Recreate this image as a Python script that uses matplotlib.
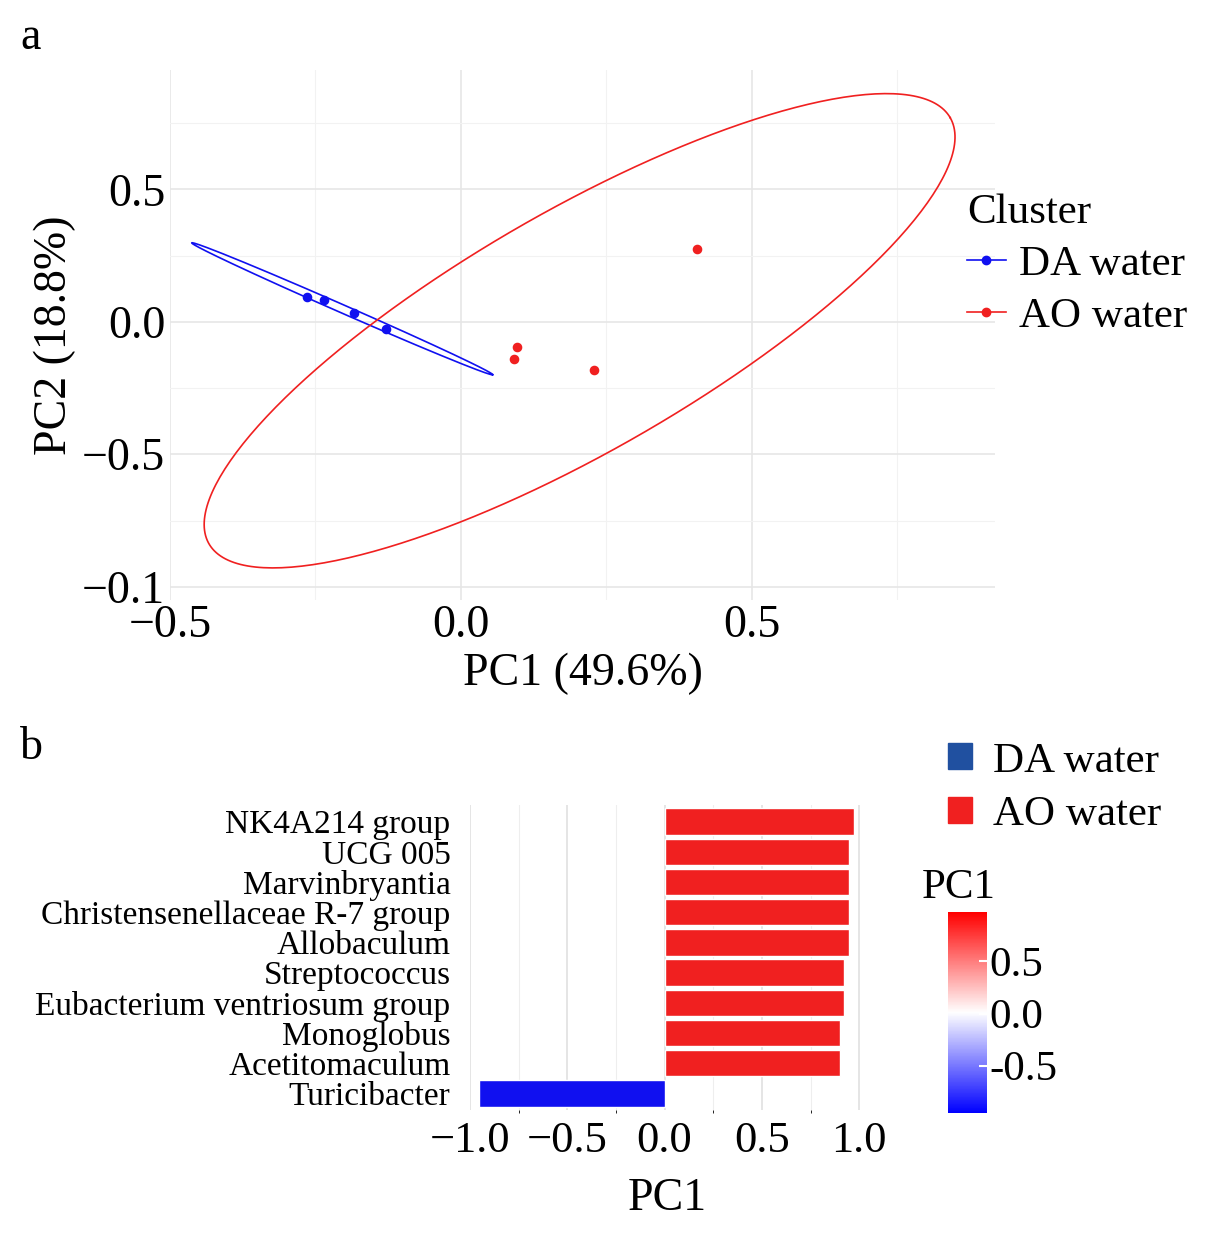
import numpy as np
import matplotlib.pyplot as plt
from matplotlib.colors import LinearSegmentedColormap, Normalize
from matplotlib.lines import Line2D
from matplotlib.patches import Patch

plt.rcParams['font.family'] = ['Liberation Serif', 'DejaVu Serif']

# ---- panel a: PCA scores ----
da_pc1 = [-0.265, -0.235, -0.184, -0.129]
da_pc2 = [0.094, 0.083, 0.034, -0.026]
ao_pc1 = [0.096, 0.091, 0.229, 0.405]
ao_pc2 = [-0.094, -0.140, -0.181, 0.275]

# ellipses: centre, semi-major vector, semi-minor vector (data units)
da_ell = ((-0.204, 0.049), (0.2585, -0.249), (0.0085, 0.0088))
ao_ell = ((0.204, -0.034), (0.637, 0.804), (0.103, -0.393))

# ---- panel b: loadings ----
taxa = ['NK4A214 group', 'UCG 005', 'Marvinbryantia', 'Christensenellaceae R-7 group',
        'Allobaculum', 'Streptococcus', 'Eubacterium ventriosum group', 'Monoglobus',
        'Acetitomaculum', 'Turicibacter']
pc1_load = [0.974, 0.95, 0.95, 0.95, 0.95, 0.92, 0.92, 0.90, 0.90, -0.954]

blue = '#1010F0'
red = '#F02020'

fig = plt.figure(figsize=(12.11, 12.34), dpi=100)

ax = fig.add_axes([170/1211, 1-600/1234, 825/1211, 530/1234])
ax.set_xlim(-0.5, 0.918)
ax.set_ylim(-1.05, 0.95)
t = np.linspace(0, 2*np.pi, 300)
for (c, u, v), col in [(da_ell, blue), (ao_ell, red)]:
    ex = c[0] + u[0]*np.cos(t) + v[0]*np.sin(t)
    ey = c[1] + u[1]*np.cos(t) + v[1]*np.sin(t)
    ax.plot(ex, ey, color=col, lw=1.2)
ax.scatter(da_pc1, da_pc2, color=blue, s=35, zorder=3)
ax.scatter(ao_pc1, ao_pc2, color=red, s=35, zorder=3)
ax.set_xticks([-0.5, 0.0, 0.5])
ax.set_xticklabels(['\u22120.5', '0.0', '0.5'])
ax.set_yticks([0.5, 0.0, -0.5, -1.0])
ax.set_yticklabels(['0.5', '0.0', '\u22120.5', '\u22120.1'])
ax.set_xticks([-0.25, 0.25, 0.75], minor=True)
ax.set_yticks([0.75, 0.25, -0.25, -0.75], minor=True)
ax.grid(True, which='major', color='#e6e6e6', lw=1.2)
ax.grid(True, which='minor', color='#f2f2f2', lw=0.8)
ax.tick_params(which='both', length=0, labelsize=33, colors='black')
for s in ax.spines.values():
    s.set_visible(False)
ax.set_xlabel('PC1 (49.6%)', fontsize=33, labelpad=4)
ax.set_ylabel('PC2 (18.8%)', fontsize=33, labelpad=4)
handles = [Line2D([], [], color=blue, marker='o', lw=1.2, label='DA water'),
           Line2D([], [], color=red, marker='o', lw=1.2, label='AO water')]
leg = ax.legend(handles=handles, title='Cluster', loc='upper left', bbox_to_anchor=(0.945, 0.80),
                frameon=False, fontsize=31, title_fontsize=31, handlelength=0.9,
                handletextpad=0.3, borderaxespad=0, labelspacing=0.3)
leg._legend_box.align = 'left'
fig.text(20/1211, 1-38/1234, 'a', fontsize=33, va='center')

# ---- panel b ----
cmap = LinearSegmentedColormap.from_list('bwr2', ['#0000FF', '#FFFFFF', '#FF0000'])
bx = fig.add_axes([470/1211, 1-1110/1234, 395/1211, 305/1234])
y = np.arange(len(taxa))[::-1]
cols = [red if v > 0 else blue for v in pc1_load]
bx.barh(y, pc1_load, height=0.88, color=cols, edgecolor='white', lw=1, zorder=3)
bx.set_yticks(y)
bx.set_yticklabels(taxa, fontsize=24)
bx.set_ylim(-0.55, 9.55)
bx.set_xlim(-1.0, 1.03)
bx.set_xticks([-1.0, -0.5, 0.0, 0.5, 1.0])
bx.set_xticklabels(['\u22121.0', '\u22120.5', '0.0', '0.5', '1.0'])
bx.set_xticks([-0.75, -0.25, 0.25, 0.75], minor=True)
bx.grid(True, axis='x', which='major', color='#e0e0e0', lw=1.2)
bx.grid(True, axis='x', which='minor', color='#eeeeee', lw=0.8)
bx.tick_params(axis='x', labelsize=32, length=0, pad=8)
bx.tick_params(axis='y', length=0, pad=14)
for s in bx.spines.values():
    s.set_visible(False)
bx.set_xlabel('PC1', fontsize=33, labelpad=12)
fig.text(20/1211, 1-748/1234, 'b', fontsize=33, va='center')

lh = [Patch(color='#2050A0', label='DA water'), Patch(color=red, label='AO water')]
fig.legend(handles=lh, loc='upper left', bbox_to_anchor=(948/1211, 1-742/1234), frameon=False,
           fontsize=31, handlelength=0.55, handleheight=0.55, handletextpad=0.5,
           labelspacing=0.35, borderaxespad=0, borderpad=0)

cax = fig.add_axes([948/1211, 1-1113/1234, 39/1211, 201/1234])
sm = plt.cm.ScalarMappable(cmap=cmap, norm=Normalize(-0.954, 0.974))
cb = fig.colorbar(sm, cax=cax)
cb.set_ticks([0.5, 0.0, -0.5])
cb.set_ticklabels(['0.5', '0.0', '-0.5'])
cb.outline.set_visible(False)
cax.tick_params(labelsize=31, length=6, width=1.5, color='white', direction='in', pad=2)
fig.text(922/1211, 1-888/1234, 'PC1', fontsize=31, va='center')

fig.savefig('out.png', dpi=100)
